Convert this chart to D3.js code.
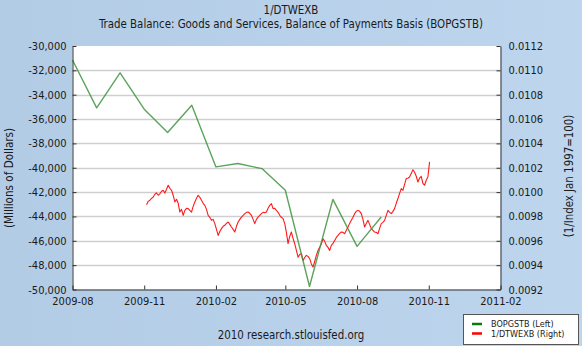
<!DOCTYPE html>
<html><head><meta charset="utf-8">
<script src="https://cdn.jsdelivr.net/npm/d3@7"></script>
<style>
html,body{margin:0;padding:0;background:#b9d1ea;}
svg{display:block;}
text{font-family:"DejaVu Sans Condensed","DejaVu Sans",sans-serif;fill:#1a1a1a;}
</style></head>
<body><svg id="c" width="582" height="346"></svg>
<script>
// ---- data ----
const titleLines = ["1/DTWEXB", "Trade Balance: Goods and Services, Balance of Payments Basis (BOPGSTB)"];
const leftAxisTitle = "(Millions of Dollars)";
const rightAxisTitle = "(1/Index Jan 1997=100)";
const sourceText = "2010 research.stlouisfed.org";
const legendLabels = ["BOPGSTB (Left)", "1/DTWEXB (Right)"];

const xTickLabels = ["2009-08","2009-11","2010-02","2010-05","2010-08","2010-11","2011-02"];
const leftTicks = [-30000,-32000,-34000,-36000,-38000,-40000,-42000,-44000,-46000,-48000,-50000];
const rightTicks = [0.0112,0.0110,0.0108,0.0106,0.0104,0.0102,0.0100,0.0098,0.0096,0.0094,0.0092];

// BOPGSTB, monthly (left axis)
const greenDates = ["2009-08","2009-09","2009-10","2009-11","2009-12","2010-01","2010-02","2010-03","2010-04","2010-05","2010-06","2010-07","2010-08","2010-09"];
const greenValues = [-31150,-35080,-32200,-35190,-37100,-34860,-39930,-39650,-40070,-41850,-49750,-42600,-46460,-44050];

// 1/DTWEXB, sampled regularly between these dates (right axis)
const redStart = "2009-11-04";
const redEnd = "2010-11-02";
const redValues = [
0.009897,0.009924,0.009933,0.009949,0.009960,0.009982,0.009993,0.009974,0.009986,0.010007,
0.010015,0.009993,0.010023,0.010056,0.010031,0.010015,0.009974,0.009919,0.009941,0.009908,
0.009836,0.009858,0.009809,0.009850,0.009867,0.009864,0.009850,0.009836,0.009883,0.009919,
0.009949,0.009974,0.009957,0.009933,0.009908,0.009891,0.009858,0.009809,0.009793,0.009768,
0.009776,0.009741,0.009694,0.009644,0.009677,0.009700,0.009719,0.009727,0.009743,0.009754,
0.009735,0.009713,0.009694,0.009672,0.009719,0.009754,0.009776,0.009795,0.009809,0.009823,
0.009834,0.009836,0.009826,0.009809,0.009776,0.009741,0.009776,0.009795,0.009809,0.009823,
0.009834,0.009830,0.009836,0.009867,0.009891,0.009905,
0.009864,0.009867,0.009850,0.009834,0.009809,0.009793,0.009782,0.009741,0.009669,0.009576,
0.009636,0.009672,0.009620,0.009576,0.009521,0.009466,0.009488,0.009494,0.009439,0.009463,
0.009480,0.009472,0.009453,0.009410,0.009384,0.009430,0.009480,0.009521,0.009546,0.009576,
0.009617,0.009595,0.009562,0.009546,0.009521,0.009562,0.009579,0.009603,0.009628,0.009644,
0.009661,0.009672,0.009669,0.009658,0.009686,0.009713,0.009743,0.009768,0.009793,0.009823,
0.009842,0.009850,0.009842,0.009823,0.009776,0.009713,0.009743,0.009768,0.009735,0.009700,
0.009686,0.009672,0.009669,0.009658,0.009702,0.009741,0.009751,0.009768,0.009809,0.009850,
0.009834,0.009823,0.009842,0.009864,0.009908,0.009947,0.009990,0.010029,0.010015,0.010064,
0.010111,0.010114,0.010124,0.010152,0.010184,0.010163,0.010130,0.010083,0.010114,0.010130,
0.010072,0.010056,0.010097,0.010124,0.010248
];

// ---- drawing ----
const W = 582, H = 346;
const x0 = 72.5, x1 = 500.5, y0 = 46, y1 = 289.5;
const svg = d3.select("#c");
const parseM = d3.timeParse("%Y-%m");
const parseD = d3.timeParse("%Y-%m-%d");

const x = d3.scaleTime().domain([parseM(xTickLabels[0]), parseM(xTickLabels[xTickLabels.length-1])]).range([x0, x1]);
const yL = d3.scaleLinear().domain([-50000, -30000]).range([y1, y0]);
const yR = d3.scaleLinear().domain([0.0092, 0.0112]).range([y1, y0]);

// background subtle gradient
const defs = svg.append("defs");
const bg = defs.append("linearGradient").attr("id","bg").attr("x1","0").attr("x2","1").attr("y1","0").attr("y2","0");
bg.append("stop").attr("offset","0").attr("stop-color","#b3cce6");
bg.append("stop").attr("offset","1").attr("stop-color","#bdd5ed");
svg.append("rect").attr("width",W).attr("height",H).attr("fill","url(#bg)");

// plot area
svg.append("rect").attr("x",x0).attr("y",y0).attr("width",x1-x0).attr("height",y1-y0).attr("fill","#ffffff");

// gridlines
svg.append("g").selectAll("line").data(leftTicks.filter(v => v > -50000 && v < -30000)).join("line")
  .attr("x1", x0).attr("x2", x1)
  .attr("y1", d => Math.round(yL(d))+0.5).attr("y2", d => Math.round(yL(d))+0.5)
  .attr("stroke","#cfcfcf").attr("stroke-width",1.6);

// series
const redDates = redValues.map((v,i) => new Date(+parseD(redStart) + i*(parseD(redEnd)-parseD(redStart))/(redValues.length-1)));
const redLine = d3.line().x((d,i) => x(redDates[i])).y(d => yR(d));
svg.append("path").datum(redValues).attr("d", redLine)
  .attr("fill","none").attr("stroke","#ff1a1a").attr("stroke-width",1.1).attr("stroke-linejoin","round");

const greenLine = d3.line().x((d,i) => x(parseM(greenDates[i]))).y(d => yL(d));
svg.append("path").datum(greenValues).attr("d", greenLine)
  .attr("fill","none").attr("stroke","#3f933f").attr("stroke-width",1.4).attr("stroke-opacity",0.85).attr("stroke-linejoin","round");

// axes
const fmtL = v => d3.format(",")(v).replace("\u2212","-");
const axL = d3.axisLeft(yL).tickValues(leftTicks).tickFormat(fmtL).tickSizeInner(-4).tickSizeOuter(0).tickPadding(6);
const gL = svg.append("g").attr("transform",`translate(${x0},0)`).call(axL);
const axR = d3.axisRight(yR).tickValues(rightTicks).tickFormat(d3.format(".4f")).tickSizeInner(-4).tickSizeOuter(0).tickPadding(8);
const gR = svg.append("g").attr("transform",`translate(${x1},0)`).call(axR);
const axB = d3.axisBottom(x).tickValues(xTickLabels.map(parseM)).tickFormat(d3.timeFormat("%Y-%m")).tickSizeInner(-4).tickSizeOuter(0).tickPadding(7);
const gB = svg.append("g").attr("transform",`translate(0,${y1})`).call(axB);
[gL,gR,gB].forEach(g => {
  g.select(".domain").attr("stroke","#333");
  g.selectAll(".tick line").attr("stroke","#333");
  g.selectAll("text").attr("font-family",null).style("font-size","11px").attr("fill","#1a1a1a");
});
gB.selectAll("text").attr("dy","0.8em");

// titles
svg.append("text").attr("x",291).attr("y",14).attr("text-anchor","middle").style("font-size","11.4px").text(titleLines[0]);
svg.append("text").attr("x",291).attr("y",28).attr("text-anchor","middle").style("font-size","11.4px").text(titleLines[1]);

svg.append("text").attr("transform","translate(13,178) rotate(-90)").attr("text-anchor","middle").style("font-size","11.6px").text(leftAxisTitle);
svg.append("text").attr("transform","translate(573,176) rotate(-90)").attr("text-anchor","middle").style("font-size","11.4px").text(rightAxisTitle);

svg.append("text").attr("x",291).attr("y",339).attr("text-anchor","middle").style("font-size","11.4px").text(sourceText);

// legend
const lg = svg.append("g");
lg.append("rect").attr("x",463.5).attr("y",314.5).attr("width",115).attr("height",30).attr("fill","#fff").attr("stroke","#555");
const legColors = ["#0b7a0b","#ff0000"];
legendLabels.forEach((t,i) => {
  const yy = 324 + i*9.5;
  lg.append("line").attr("x1",472).attr("x2",482).attr("y1",yy).attr("y2",yy).attr("stroke",legColors[i]).attr("stroke-width",2.5);
  lg.append("text").attr("x",491).attr("y",yy+3.3).style("font-size","9px").text(t);
});
</script></body></html>
